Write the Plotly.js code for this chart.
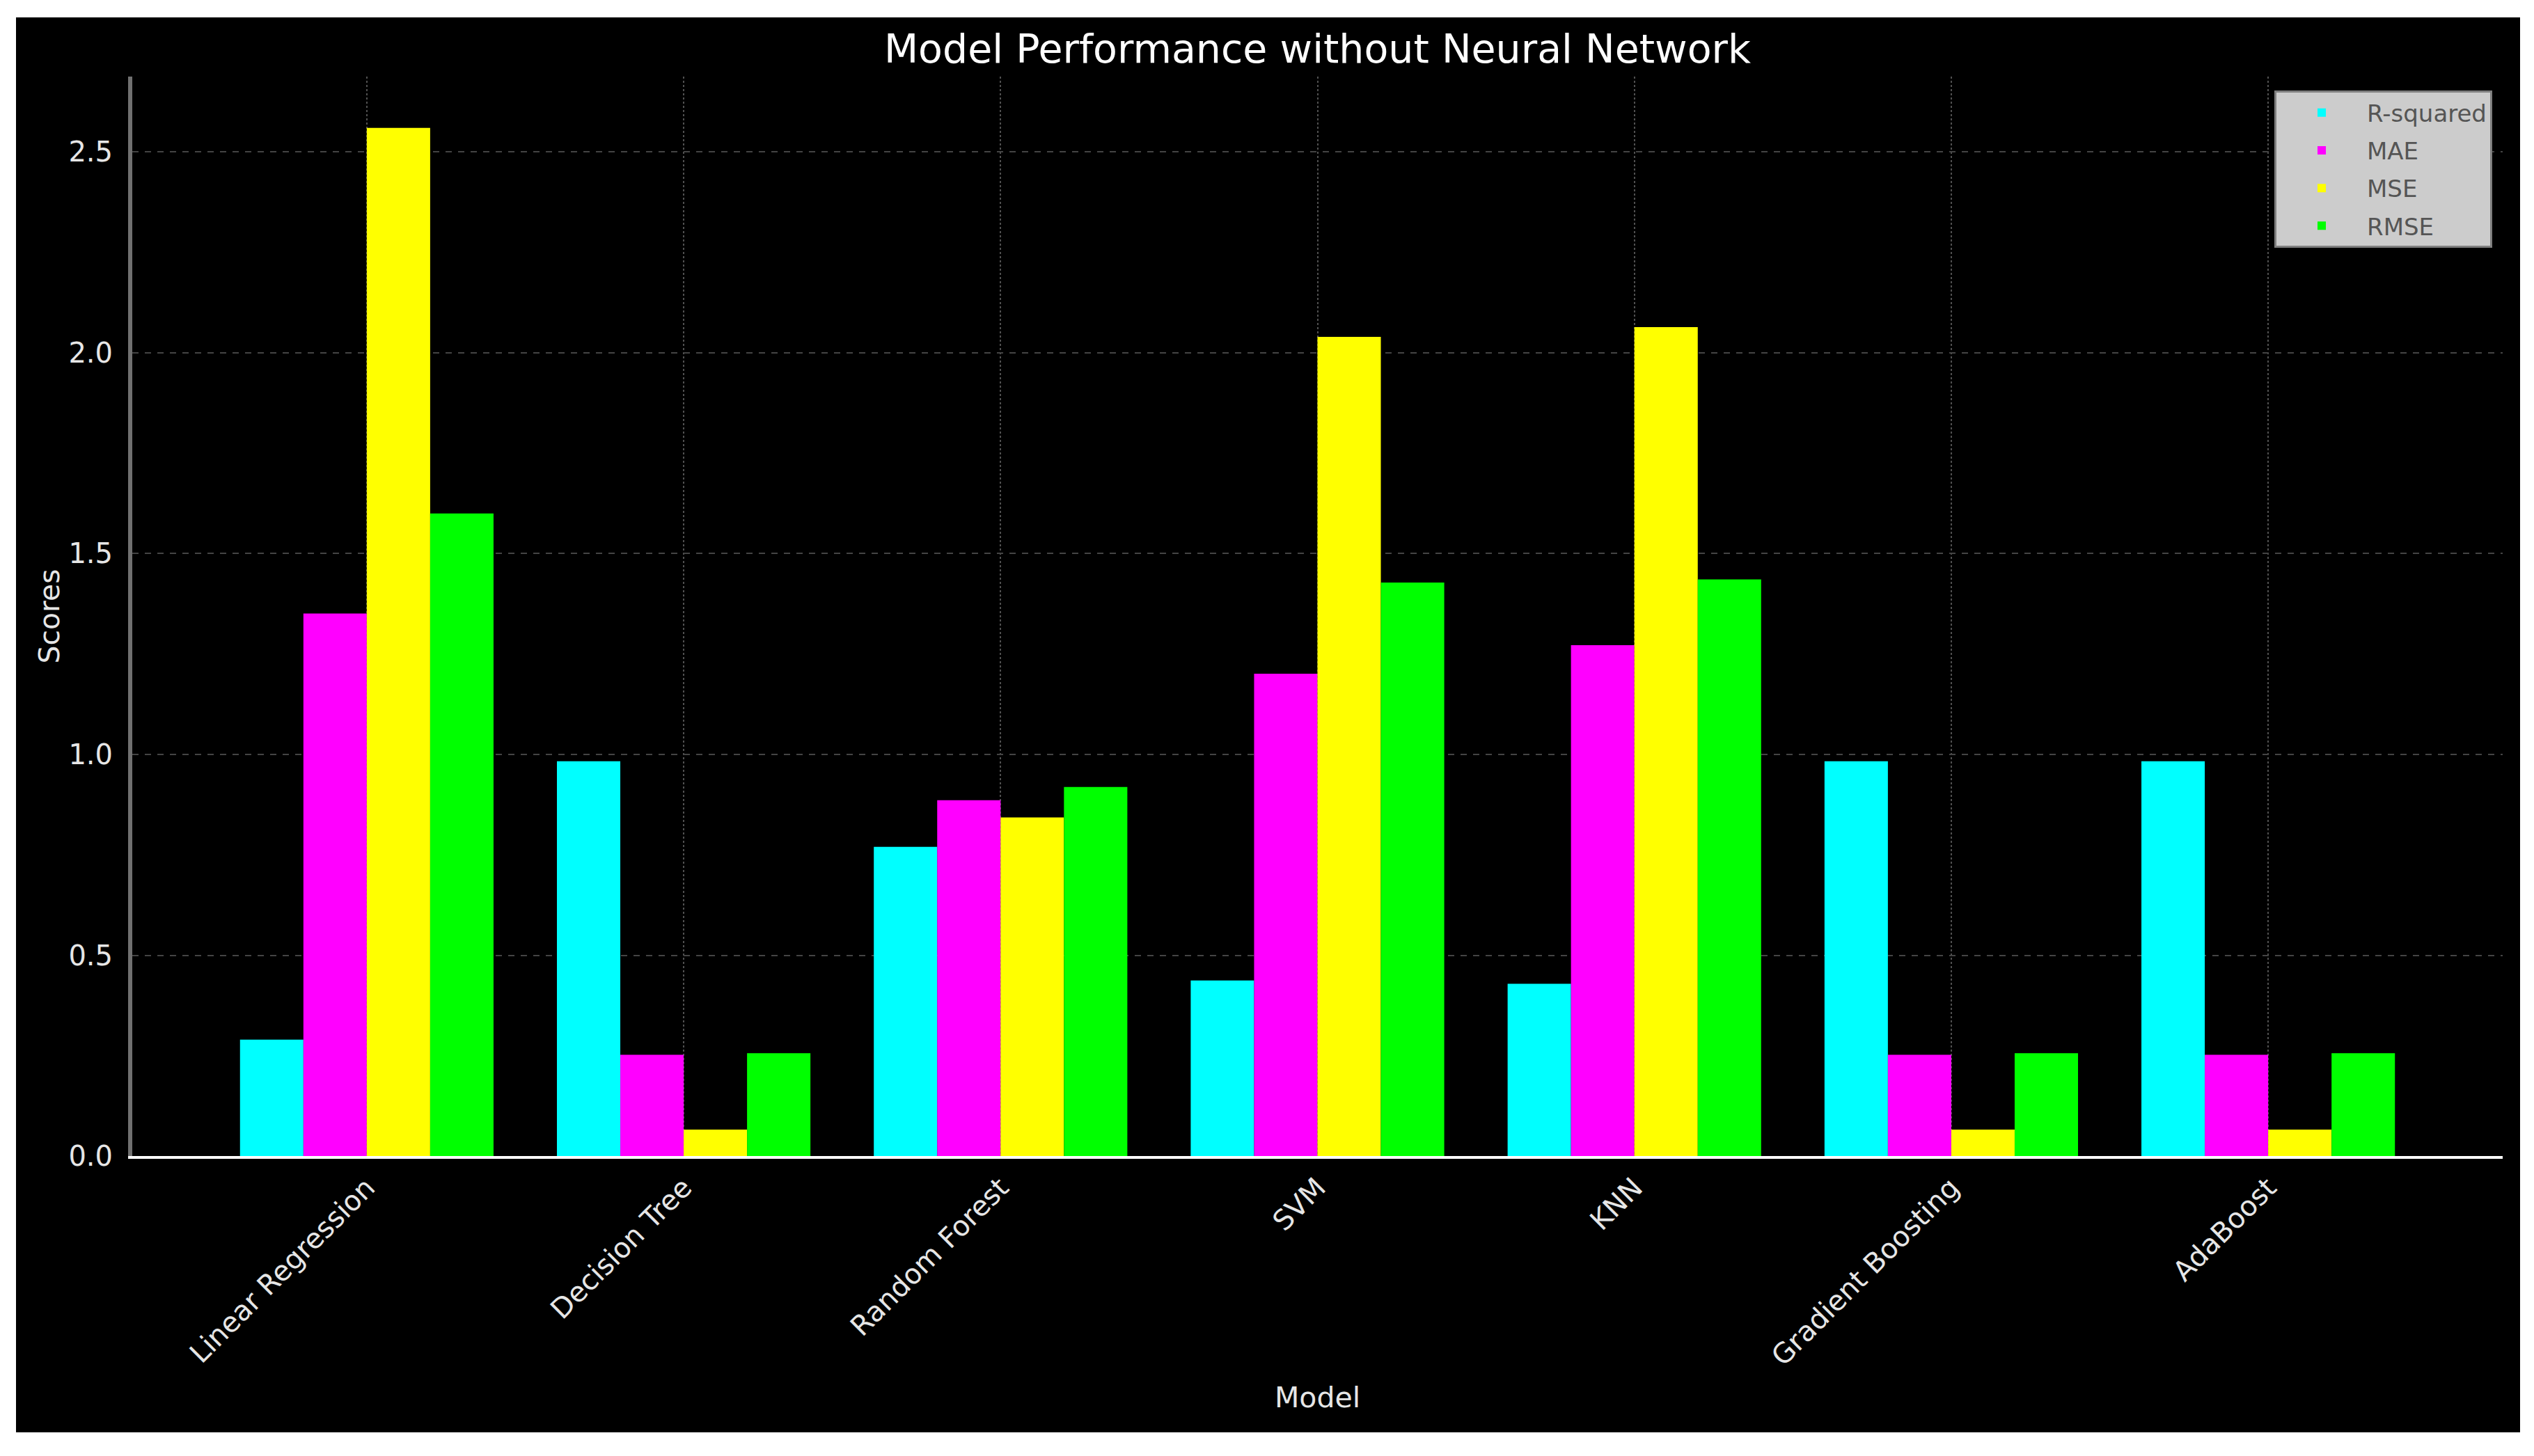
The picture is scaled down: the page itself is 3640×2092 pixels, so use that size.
<!DOCTYPE html>
<html>
<head>
<meta charset="utf-8">
<script src="https://cdn.plot.ly/plotly-3.0.1.min.js"></script>
<style>
    body { margin: 0; background: #ffffff; width: 3640px; height: 2092px; overflow: hidden; }
    #bar-chart { position: absolute; left: 23px; top: 25px; width: 3597px; height: 2033px; }
</style>
</head>
<body>
<div id="bar-chart"></div>
<script>
// Models on the x axis
let models = ["Linear Regression", "Decision Tree", "Random Forest", "SVM", "KNN", "Gradient Boosting", "AdaBoost"];

// Scores per metric
let rSquared = [0.290, 0.983, 0.770, 0.437, 0.429, 0.983, 0.983];
let mae = [1.351, 0.252, 0.886, 1.201, 1.272, 0.252, 0.252];
let mse = [2.560, 0.066, 0.843, 2.040, 2.064, 0.066, 0.066];
let rmse = [1.600, 0.256, 0.919, 1.428, 1.436, 0.256, 0.256];

let metricNames = ["R-squared", "MAE", "MSE", "RMSE"];
let metricColors = ["#00ffff", "#ff00ff", "#ffff00", "#00ff00"];
let metricValues = [rSquared, mae, mse, rmse];

// One bar trace per metric
let traces = metricNames.map((name, i) => ({
    x: models,
    y: metricValues[i],
    name: name,
    legendgroup: name,
    type: "bar",
    marker: { color: metricColors[i], line: { width: 0 } }
}));

let font = "DejaVu Sans";

let layout = {
    title: {
        text: "Model Performance without Neural Network",
        font: { family: font, size: 57, color: "#ffffff" },
        xref: "paper",
        x: 0.5,
        y: 0.978,
        yanchor: "middle"
    },
    paper_bgcolor: "#000000",
    plot_bgcolor: "#000000",
    barmode: "group",
    bargap: 0.2,
    bargroupgap: 0,
    margin: { l: 167, r: 25, t: 85, b: 397 },
    showlegend: true,
    legend: {
        x: 0.9956,
        y: 0.987,
        xanchor: "right",
        yanchor: "top",
        bgcolor: "#cccccc",
        bordercolor: "#7f7f7f",
        borderwidth: 3,
        itemwidth: 120,
        tracegroupgap: 7,
        font: { family: font, size: 34, color: "#555555" }
    },
    xaxis: {
        title: { text: "Model", font: { family: font, size: 41, color: "#e6e6e6" }, standoff: 24 },
        range: [-0.74, 6.74],
        tickangle: -45,
        tickfont: { family: font, size: 40, color: "#e6e6e6" },
        ticks: "",
        ticklabelstandoff: 2,
        showline: true,
        linecolor: "#ffffff",
        linewidth: 4,
        showgrid: true,
        gridcolor: "#505050",
        gridwidth: 2,
        griddash: "dot",
        automargin: false
    },
    yaxis: {
        title: { text: "Scores", font: { family: font, size: 41, color: "#e6e6e6" }, standoff: 2 },
        range: [0, 2.688],
        dtick: 0.5,
        tickformat: ".1f",
        tickfont: { family: font, size: 40, color: "#e6e6e6" },
        ticks: "",
        ticklabelstandoff: 14,
        showline: true,
        linecolor: "#707070",
        linewidth: 6,
        showgrid: true,
        gridcolor: "#444444",
        gridwidth: 2,
        griddash: "dash",
        zeroline: false,
        automargin: false
    }
};

Plotly.newPlot("bar-chart", traces, layout, { staticPlot: true });
</script>
</body>
</html>
